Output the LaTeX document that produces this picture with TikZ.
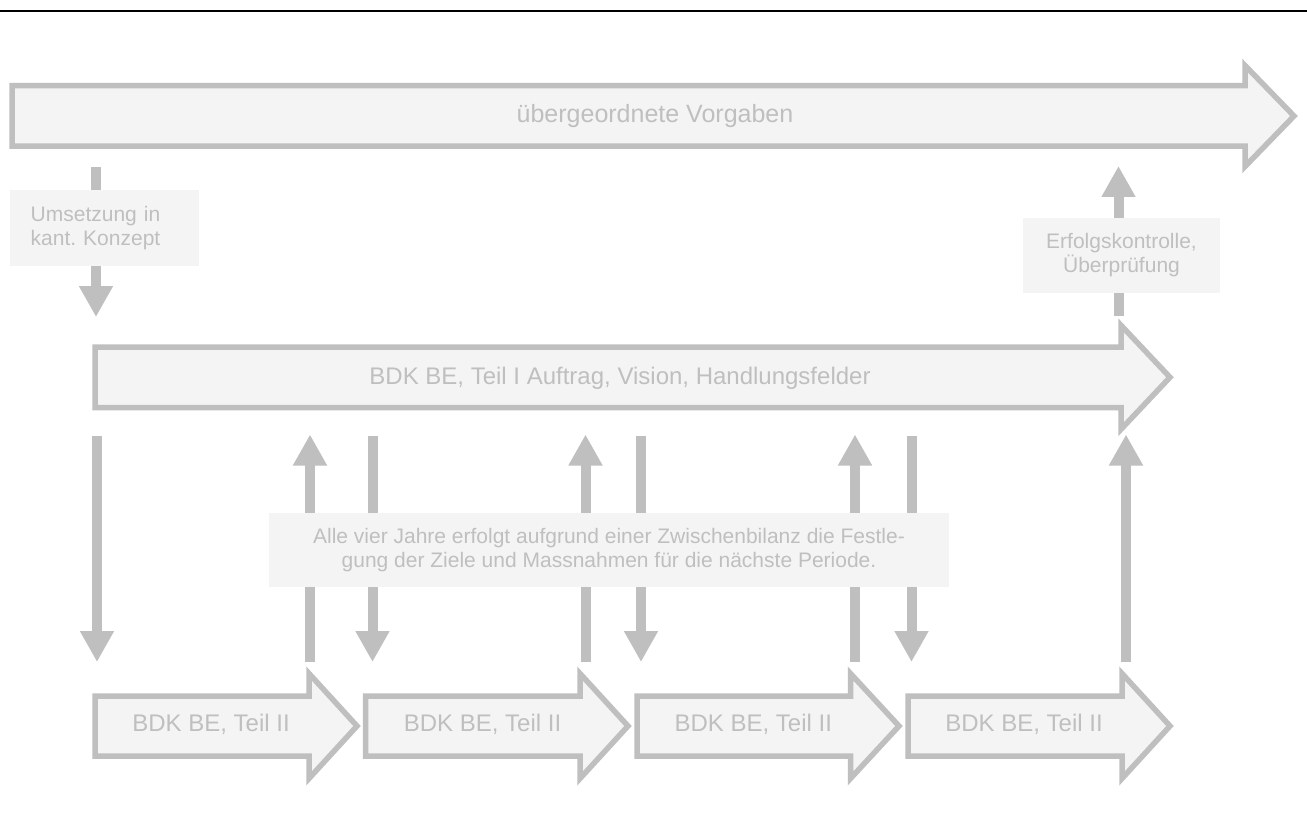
\documentclass[tikz,border=0pt]{standalone}
\usepackage{fontspec}
\setmainfont{Liberation Sans}
\usetikzlibrary{arrows.meta}
\definecolor{lg}{RGB}{191,191,191}
\definecolor{lf}{RGB}{244,244,244}
\frenchspacing
% block arrow: #1 left x, #2 head x, #3 tip x, #4 mid y, #5 half body, #6 half head
\newcommand\blockarr[6]{%
  \draw[blk] (#1,#4-#5) -- (#2,#4-#5) -- (#2,#4-#6) -- (#3,#4) -- (#2,#4+#6) -- (#2,#4+#5) -- (#1,#4+#5) -- cycle;}
\tikzset{
  blk/.style={draw=lg, fill=lf, line width=5.5pt, line join=miter, miter limit=10},
  vconn/.style={draw=lg, line width=10pt, -{Triangle[width=32pt,length=31pt]}},
  bigtxt/.style={text=lg, inner sep=0pt, anchor=base, font=\fontsize{24}{28}\selectfont},
  smalltxt/.style={text=lg, font=\fontsize{21}{24}\selectfont\frenchspacing},
  notebox/.style={fill=lf, inner sep=0pt, smalltxt}
}
\begin{document}
\begin{tikzpicture}[x=1pt,y=-1pt]
\useasboundingbox (0,0) rectangle (1307,821);
\fill[white] (0,0) rectangle (1307,821);
% top rule
\draw[black, line width=2.7pt] (0,11) -- (1307,11);

% connectors (drawn first, boxes cover them)
\coordinate (u1) at (96,167);   \coordinate (u2) at (96,317);
\coordinate (e1) at (1118.5,316); \coordinate (e2) at (1118.5,166);
\draw[vconn] (u1) -- (u2);
\draw[vconn] (e1) -- (e2);

\foreach \x [count=\i] in {97,372.5,641,911.5} {
  \coordinate (d\i a) at (\x,436);
  \coordinate (d\i b) at (\x,662);
  \draw[vconn] (d\i a) -- (d\i b);
}
\foreach \x [count=\i] in {310,585.5,855,1126} {
  \coordinate (p\i a) at (\x,662);
  \coordinate (p\i b) at (\x,434.5);
  \draw[vconn] (p\i a) -- (p\i b);
}

% block arrows
\blockarr{12}{1245}{1294}{116}{30.25}{50.5}
\node[bigtxt, font=\fontsize{25}{29}\selectfont] (top) at (655,123) {übergeordnete Vorgaben};

\blockarr{95}{1121}{1170}{377.3}{30.3}{52}
\node[bigtxt] (mid) at (620,384) {BDK BE, Teil I Auftrag, Vision, Handlungsfelder};

\blockarr{95}{309}{357}{726}{30}{52.5}
\blockarr{365.5}{580}{628}{726}{30}{52.5}
\blockarr{637}{850.5}{899}{726}{30}{52.5}
\blockarr{908}{1122}{1170}{726}{30}{52.5}
\node[bigtxt] (b1) at (211,731) {BDK BE, Teil II};
\node[bigtxt] (b2) at (482.5,731) {BDK BE, Teil II};
\node[bigtxt] (b3) at (753.3,731) {BDK BE, Teil II};
\node[bigtxt] (b4) at (1024,731) {BDK BE, Teil II};

% note boxes
\node[notebox, minimum width=189pt, minimum height=76pt, text width=147.6pt, align=left] (ums) at (104.5,228.4) {Umsetzung in\\kant. Konzept};
\node[notebox, minimum width=197pt, minimum height=75pt, align=center] (erf) at (1121.5,255.5) {Erfolgskontrolle,\\Überprüfung};
\node[notebox, minimum width=680pt, minimum height=74pt, align=center] (note) at (609,550) {Alle vier Jahre erfolgt aufgrund einer Zwischenbilanz die Festle-\\gung der Ziele und Massnahmen für die nächste Periode.};
\end{tikzpicture}
\end{document}
